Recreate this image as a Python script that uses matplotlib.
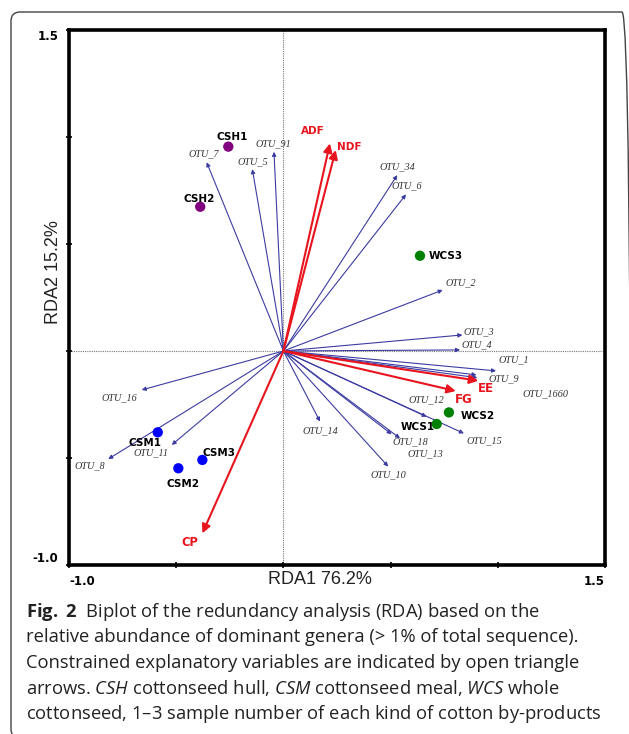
import matplotlib
matplotlib.use("Agg")
import matplotlib.pyplot as plt
from matplotlib.patches import FancyBboxPatch
from matplotlib.transforms import IdentityTransform

# === DATA (RDA biplot scores) ===
sample_names = ['CSH1', 'CSH2', 'CSM1', 'CSM2', 'CSM3', 'WCS1', 'WCS2', 'WCS3']
sample_x = [-0.257, -0.388, -0.586, -0.490, -0.378, 0.715, 0.772, 0.637]
sample_y = [0.955, 0.674, -0.380, -0.548, -0.509, -0.341, -0.287, 0.445]
sample_group = ['CSH', 'CSH', 'CSM', 'CSM', 'CSM', 'WCS', 'WCS', 'WCS']

env_names = ['ADF', 'NDF', 'CP', 'EE', 'FG']
env_x = [0.217, 0.244, -0.378, 0.909, 0.804]
env_y = [0.970, 0.939, -0.852, -0.139, -0.187]

otu_names = ['OTU_7', 'OTU_5', 'OTU_91', 'OTU_34', 'OTU_6', 'OTU_2', 'OTU_3',
             'OTU_4', 'OTU_1', 'OTU_9', 'OTU_1660', 'OTU_12', 'OTU_15', 'OTU_14',
             'OTU_18', 'OTU_13', 'OTU_10', 'OTU_16', 'OTU_11', 'OTU_8']
otu_x = [-0.358, -0.145, -0.044, 0.531, 0.572, 0.743, 0.835, 0.824, 0.992, 0.901,
         0.905, 0.668, 0.842, 0.171, 0.505, 0.544, 0.489, -0.661, -0.521, -0.817]
otu_y = [0.882, 0.850, 0.931, 0.822, 0.732, 0.285, 0.075, 0.005, -0.093, -0.112,
         -0.125, -0.307, -0.385, -0.330, -0.389, -0.408, -0.540, -0.182, -0.439, -0.505]

x_label = 'RDA1 76.2%'
y_label = 'RDA2 15.2%'

# === STYLE / LAYOUT ===
group_colors = {'CSH': '#800080', 'CSM': '#0000ff', 'WCS': '#008000'}
red = '#e8141e'
otu_color = '#3c3ca2'

# label offsets in pixels from the point / arrow tip
sample_offsets = {'CSH1': (4, 10), 'CSH2': (-1, 8), 'CSM1': (-13, -11), 'CSM2': (5, -16),
                  'CSM3': (17, 7), 'WCS1': (-19, -3), 'WCS2': (29, -4), 'WCS3': (26, 0)}
env_offsets = {'ADF': (-17, 12), 'NDF': (14, 3), 'CP': (-13, -9), 'EE': (8, -8), 'FG': (8, -8)}
env_sizes = {'ADF': 7.5, 'NDF': 7.5, 'CP': 8.3, 'EE': 8.5, 'FG': 8.5}
otu_offsets = {'OTU_7': (-3, 9), 'OTU_5': (0, 7), 'OTU_91': (-1, 8), 'OTU_34': (0, 8),
               'OTU_6': (1, 9), 'OTU_2': (18, 7), 'OTU_3': (16, 3), 'OTU_4': (17, 5),
               'OTU_1': (18, 11), 'OTU_9': (27, -4), 'OTU_1660': (68, -16),
               'OTU_12': (0, 17), 'OTU_15': (20, -7), 'OTU_14': (0, -9),
               'OTU_18': (19, -8), 'OTU_13': (25, -15), 'OTU_10': (0, -8),
               'OTU_16': (-22, -8), 'OTU_11': (-21, -8), 'OTU_8': (-18, -7)}

plt.rcParams['mathtext.fontset'] = 'custom'
plt.rcParams['mathtext.rm'] = 'Open Sans'
plt.rcParams['mathtext.it'] = 'Open Sans:italic'
plt.rcParams['mathtext.bf'] = 'Open Sans:bold'

W, H = 629, 734
fig = plt.figure(figsize=(W / 100, H / 100), dpi=100)
ax = fig.add_axes([69 / W, 1 - 565 / H, 536 / W, 535 / H])
ax.set_xlim(-1.0, 1.5)
ax.set_ylim(-1.0, 1.5)

# dotted origin lines
ax.axhline(0, color='#777777', lw=0.8, ls=(0, (1, 1)), zorder=1)
ax.axvline(0, color='#777777', lw=0.8, ls=(0, (1, 1)), zorder=1)

# OTU arrows
for name, x, y in zip(otu_names, otu_x, otu_y):
    ax.annotate('', xy=(x, y), xytext=(0, 0),
                arrowprops=dict(arrowstyle='-|>', color=otu_color, lw=0.8,
                                mutation_scale=6, shrinkA=0, shrinkB=0), zorder=2)
    dx, dy = otu_offsets[name]
    ax.annotate(name, xy=(x, y), xytext=(dx, dy), textcoords='offset pixels',
                ha='center', va='center', fontsize=7.3, family='Liberation Serif',
                style='italic', color='#333333', zorder=5)

# environmental arrows
for name, x, y in zip(env_names, env_x, env_y):
    ax.annotate('', xy=(x, y), xytext=(0, 0),
                arrowprops=dict(arrowstyle='-|>', color=red, lw=1.5,
                                mutation_scale=13, shrinkA=0, shrinkB=0), zorder=3)
    dx, dy = env_offsets[name]
    ax.annotate(name, xy=(x, y), xytext=(dx, dy), textcoords='offset pixels',
                ha='center', va='center', fontsize=env_sizes[name],
                fontweight='bold', color=red, zorder=5)

# samples
for name, x, y, g in zip(sample_names, sample_x, sample_y, sample_group):
    ax.scatter(x, y, s=55, color=group_colors[g], edgecolors='none', zorder=4)
    dx, dy = sample_offsets[name]
    ax.annotate(name, xy=(x, y), xytext=(dx, dy), textcoords='offset pixels',
                ha='center', va='center', fontsize=7.5, fontweight='bold',
                color='black', zorder=6)

# axes frame and ticks
for sp in ax.spines.values():
    sp.set_linewidth(2.6)
    sp.set_color('black')
ax.set_xticks([-1.0, -0.5, 0.0, 0.5, 1.0, 1.5])
ax.set_xticklabels(['-1.0', '', '', '', '', '1.5'])
ax.set_yticks([-1.0, -0.5, 0.0, 0.5, 1.0, 1.5])
ax.set_yticklabels(['-1.0', '', '', '', '', '1.5'])
ax.tick_params(direction='inout', length=5, width=1.2, labelsize=8.5, pad=5)
for lab in ax.get_xticklabels() + ax.get_yticklabels():
    lab.set_fontweight('bold')
xt = ax.get_xticklabels()
xt[0].set_ha('left')
xt[-1].set_ha('right')
yt = ax.get_yticklabels()
yt[0].set_va('bottom')
yt[-1].set_va('top')

ax.set_xlabel(x_label, fontsize=13, family='Liberation Sans', color='#222222')
ax.set_ylabel(y_label, fontsize=13, family='Liberation Sans', color='#222222')
ax.xaxis.set_label_coords(0.468, -0.011)
ax.yaxis.set_label_coords(-0.013, 0.548)

# rounded outer frame (right and bottom edges fall just outside the picture)
frame = FancyBboxPatch((11, -4), 620, 734 - 12 + 4,
                       boxstyle='round,pad=0,rounding_size=9',
                       transform=IdentityTransform(), facecolor='none',
                       edgecolor='#444444', lw=1.0)
fig.add_artist(frame)

# caption
caption = [
    r'$\mathbf{Fig.\ 2}$  Biplot of the redundancy analysis (RDA) based on the',
    'relative abundance of dominant genera (> 1% of total sequence).',
    'Constrained explanatory variables are indicated by open triangle',
    r'arrows. $\mathit{CSH}$ cottonseed hull, $\mathit{CSM}$ cottonseed meal, $\mathit{WCS}$ whole',
    r'cottonseed, $\mathit{1}$$\mathit{–}$$\mathit{3}$ sample number of each kind of cotton by-products',
]
for i, line in enumerate(caption):
    fig.text(26 / W, 1 - (617 + 25.5 * i) / H, line, fontsize=13.2,
             family='Open Sans', color='#222222', ha='left', va='baseline')

fig.savefig('out.png', dpi=100)
